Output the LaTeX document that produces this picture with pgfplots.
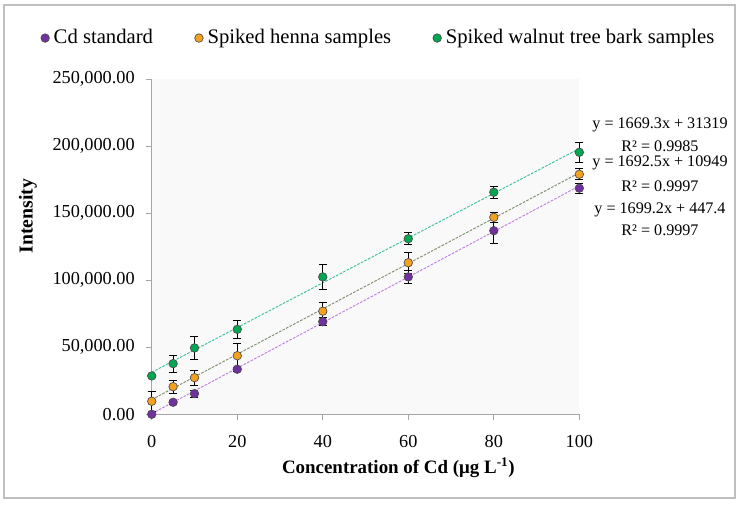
\documentclass[border=0pt]{standalone}
\usepackage{fontspec}
\setmainfont{Liberation Serif}
\usepackage{pgfplots}
\pgfplotsset{compat=1.18}
\definecolor{cpurple}{HTML}{7030A0}
\definecolor{corange}{HTML}{F4A11E}
\definecolor{cgreen}{HTML}{00A651}
\definecolor{lpurple}{HTML}{C080E0}
\definecolor{lorange}{HTML}{7F8F6F}
\definecolor{lgreen}{HTML}{3CC0A0}
\definecolor{axgray}{HTML}{A6A6A6}
\begin{document}
\fontsize{13.7}{16}\selectfont
\begin{tikzpicture}
\fill[white] (-113.8pt,-68.5pt) rectangle (441.2pt,310.7pt);
\draw[black!25, line width=1.1pt] (-110.8pt,-62.8pt) rectangle (437.5pt,307.0pt);
\begin{axis}[
  at={(0,0)}, anchor=south west,
  scale only axis, width=320.7pt, height=251.25pt,
  xmin=0, xmax=100, ymin=0, ymax=250000,
  clip=false,
  axis x line*=bottom, axis y line*=left,
  axis line style={axgray, line width=0.8pt, -},
  xtick={0,20,40,60,80,100},
  ytick={0,50000,100000,150000,200000,250000},
  tick align=outside, major tick length=4pt,
  tick style={axgray, line width=0.8pt},
  axis background/.style={fill=black!2.5},
  scaled y ticks=false,
  /pgf/number format/assume math mode=true,
  yticklabel style={xshift=-4pt, /pgf/number format/.cd, fixed, fixed zerofill, precision=2, 1000 sep={,}},
  xticklabel style={yshift=-7pt, /pgf/number format/.cd, fixed, precision=0},
  tick label style={font=\fontsize{13.7}{16}\selectfont},
  legend columns=-1,
  legend style={draw=none, fill=none, at={(axis description cs:0.531,1.123)}, anchor=center,
    font=\fontsize{15.5}{18}\selectfont,
    /tikz/every odd column/.append style={column sep=1pt},
    /tikz/every even column/.append style={column sep=29pt}},
  error bars/error bar style={black, line width=0.6pt},
  error bars/error mark options={black, line width=0.6pt, rotate=90, mark size=3pt},
]
% trend lines
\addplot[lpurple, line width=0.7pt, dash pattern=on 2pt off 1pt, forget plot] coordinates {(0,447.4) (100,170367.4)};
\addplot[lorange, line width=0.7pt, dash pattern=on 2pt off 1pt, forget plot] coordinates {(0,10949) (100,180199)};
\addplot[lgreen, line width=0.7pt, dash pattern=on 2pt off 1pt, forget plot] coordinates {(0,31319) (100,198249)};
% data
\addplot[only marks, mark=*, mark size=3.2pt, mark options={fill=cpurple, draw=black!70, line width=0.5pt},
  legend image code/.code={\draw[fill=cpurple, draw=black!70, line width=0.5pt] (0,0) circle (3.2pt);},
  error bars/.cd, y dir=both, y explicit] coordinates {
  (0,0) +- (0,0)
  (5,8950) +- (0,1500)
  (10,15400) +- (0,2500)
  (20,33600) +- (0,1500)
  (40,69100) +- (0,3000)
  (60,102500) +- (0,5200)
  (80,137000) +- (0,9500)
  (100,168700) +- (0,3700)
};
\addplot[only marks, mark=*, mark size=3.2pt, mark options={fill=corange, draw=black!70, line width=0.5pt},
  legend image code/.code={\draw[fill=corange, draw=black!70, line width=0.5pt] (0,0) circle (3.2pt);},
  error bars/.cd, y dir=both, y explicit] coordinates {
  (0,9700) +- (0,7300)
  (5,20600) +- (0,4700)
  (10,27300) +- (0,5600)
  (20,43700) +- (0,9400)
  (40,76900) +- (0,6500)
  (60,113100) +- (0,7700)
  (80,147000) +- (0,3700)
  (100,179100) +- (0,4200)
};
\addplot[only marks, mark=*, mark size=3.2pt, mark options={fill=cgreen, draw=black!70, line width=0.5pt},
  legend image code/.code={\draw[fill=cgreen, draw=black!70, line width=0.5pt] (0,0) circle (3.2pt);},
  error bars/.cd, y dir=both, y explicit] coordinates {
  (0,28600) +- (0,1000)
  (5,37800) +- (0,6200)
  (10,49500) +- (0,8900)
  (20,63400) +- (0,6600)
  (40,102500) +- (0,9000)
  (60,131000) +- (0,4600)
  (80,165700) +- (0,4400)
  (100,195500) +- (0,7400)
};
\legend{Cd standard, Spiked henna samples, Spiked walnut tree bark samples}
\end{axis}
\node[rotate=90, font=\bfseries\fontsize{14.8}{17}\selectfont] at (-92.8pt,148.5pt) {Intensity};
\node[font=\bfseries\fontsize{14.2}{17}\selectfont] at (185pt,-40.3pt) {Concentration of Cd (μg L\textsuperscript{-1})};
\begin{scope}[every node/.style={inner sep=0pt, font=\fontsize{12.1}{14}\selectfont}]
\node at (381.2pt,217.0pt) {y = 1669.3x + 31319};
\node at (381.2pt,200.7pt) {R² = 0.9985};
\node at (381.2pt,188.25pt) {y = 1692.5x + 10949};
\node at (381.2pt,170.7pt) {R² = 0.9997};
\node at (381.2pt,153.2pt) {y = 1699.2x + 447.4};
\node at (381.2pt,138.2pt) {R² = 0.9997};
\end{scope}
\end{tikzpicture}
\end{document}
